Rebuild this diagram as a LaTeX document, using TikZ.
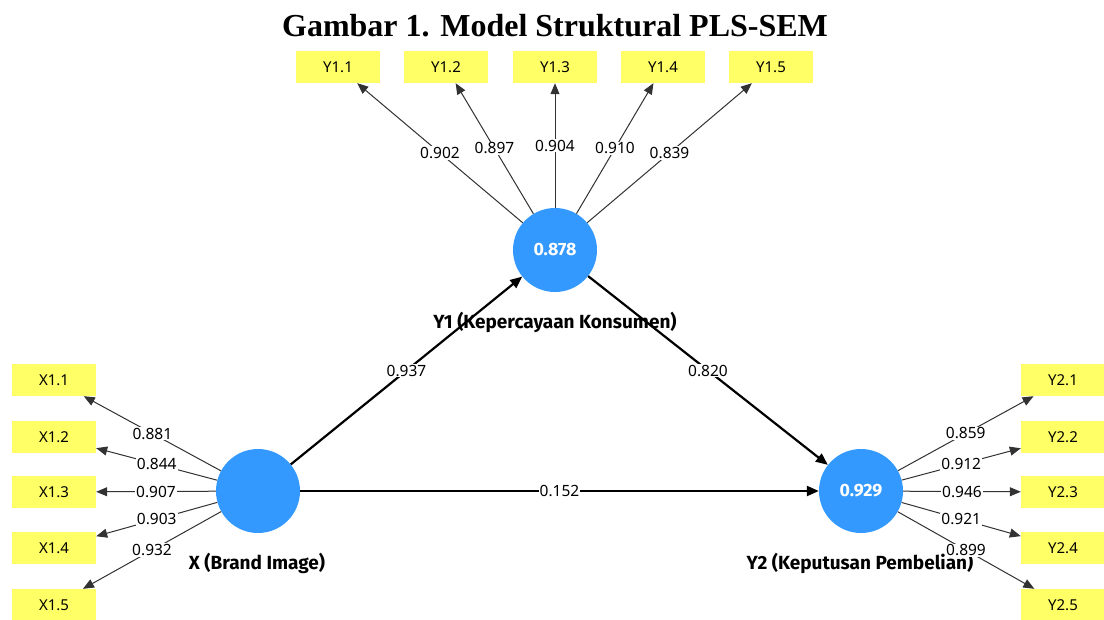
\documentclass[tikz,border=0pt]{standalone}
\usepackage{fontspec}
\setmainfont{Liberation Serif}
\newfontfamily\uifont{Noto Sans}
\newfontfamily\uibold{Fira Sans}
\usetikzlibrary{arrows.meta}
\definecolor{lvblue}{RGB}{51,153,255}
\definecolor{indyellow}{RGB}{255,255,102}
\definecolor{loadline}{RGB}{50,50,50}
\tikzset{
  latent/.style={circle,fill=lvblue,minimum size=84pt,inner sep=0pt,text=white,font=\uibold\bfseries\fontsize{17.8}{19}\selectfont},
  indicator/.style={rectangle,fill=indyellow,minimum width=84pt,minimum height=32pt,inner sep=0pt,font=\uifont\fontsize{15}{16}\selectfont},
  lvlabel/.style={font=\uibold\bfseries\fontsize{19}{21}\selectfont,inner sep=1pt},
  loading/.style={draw=loadline,line width=1pt,-{Triangle[length=11pt,width=9pt]}},
  strpath/.style={draw=black,line width=2.2pt,-{Triangle[length=12pt,width=10pt]}},
  coef/.style={fill=white,inner sep=1pt,font=\uifont\fontsize{15.5}{17}\selectfont},
  titletext/.style={font=\bfseries\fontsize{32}{36}\selectfont,inner sep=0pt}
}
\begin{document}
\begin{tikzpicture}[x=1pt,y=-1pt]
\useasboundingbox (0,0) rectangle (1104,619);
\fill[white] (0,0) rectangle (1104,619);

\node[titletext] (title) at (555,26) {Gambar 1. Model Struktural PLS-SEM};

% latent variables
\node[latent] (Y1) at (555,250) {0.878};
\node[latent] (X) at (258,491) {};
\node[latent] (Y2) at (861,491) {0.929};

\node[lvlabel] (lY1) at (555,322) {Y1 (Kepercayaan Konsumen)};
\node[lvlabel] (lX) at (257,563) {X (Brand Image)};
\node[lvlabel] (lY2) at (860,563) {Y2 (Keputusan Pembelian)};

% indicators
\foreach \i/\xx in {1/338,2/446,3/555,4/663,5/771}
  \node[indicator] (y1\i) at (\xx,67) {Y1.\i};
\foreach \i/\yy in {1/380,2/437,3/492,4/548,5/605}{
  \node[indicator] (x\i) at (54,\yy) {X1.\i};
  \node[indicator] (y2\i) at (1063,\yy) {Y2.\i};
}

% outer loadings
\foreach \i/\v in {1/0.902,2/0.897,3/0.904,4/0.910,5/0.839}
  \draw[loading] (Y1) -- node[coef] {\v} (y1\i);
\foreach \i/\v in {1/0.881,2/0.844,3/0.907,4/0.903,5/0.932}
  \draw[loading] (X) -- node[coef] {\v} (x\i);
\foreach \i/\v in {1/0.859,2/0.912,3/0.946,4/0.921,5/0.899}
  \draw[loading] (Y2) -- node[coef] {\v} (y2\i);

% structural paths
\draw[strpath] (X) -- node[coef] {0.937} (Y1);
\draw[strpath] (Y1) -- node[coef] {0.820} (Y2);
\draw[strpath] (X) -- node[coef] {0.152} (Y2);
\end{tikzpicture}
\end{document}
